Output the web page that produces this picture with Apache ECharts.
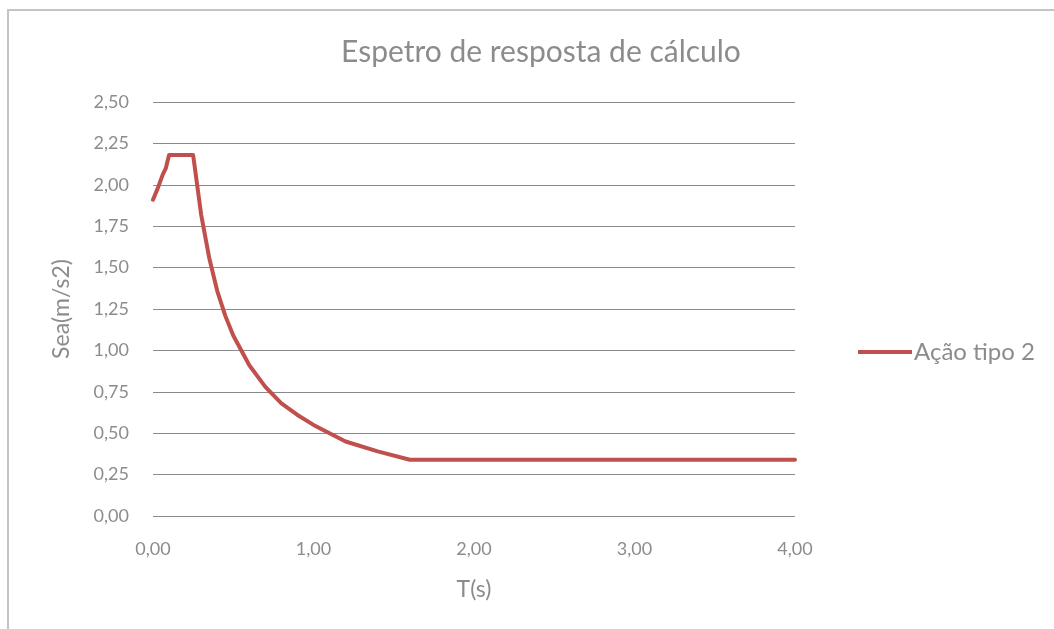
<!DOCTYPE html>
<html>
<head>
<meta charset="utf-8">
<script src="https://cdn.jsdelivr.net/npm/echarts@6/dist/echarts.min.js"></script>
<style>
    html, body { margin: 0; padding: 0; background: #fff; }
    #frame { position: absolute; left: 7px; top: 9px; width: 1100px; height: 700px; border: 2px solid #c4c4c4; box-sizing: border-box; }
    #chart { position: absolute; left: 0; top: 0; width: 1054px; height: 629px; }
</style>
</head>
<body>
<div id="frame"></div>
<div id="chart"></div>
<script>
// período T(s)
const periods = [0, 0.03, 0.06, 0.08, 0.10, 0.25, 0.30, 0.35, 0.40, 0.45, 0.50, 0.60, 0.70, 0.80, 0.90, 1.00, 1.10, 1.20, 1.40, 1.60, 4.00];
// Sea (m/s2) - Ação tipo 2
const accel = [1.91, 1.98, 2.06, 2.10, 2.18, 2.18, 1.82, 1.56, 1.36, 1.21, 1.09, 0.91, 0.78, 0.68, 0.61, 0.55, 0.50, 0.45, 0.39, 0.34, 0.34];
const yTicks = [0, 0.25, 0.5, 0.75, 1, 1.25, 1.5, 1.75, 2, 2.25, 2.5];
const xTicks = [0, 1, 2, 3, 4];

const gray = '#8c8c8c';
const font = 'Lato, "Open Sans", sans-serif';
const fmt = v => v.toFixed(2).replace('.', ',');

const chart = echarts.init(document.getElementById('chart'));

chart.setOption({
    animation: false,
    title: {
        text: 'Espetro de resposta de cálculo',
        left: 536,
        top: 32,
        textAlign: 'center',
        textStyle: { color: gray, fontFamily: font, fontSize: 30, fontWeight: 'normal' }
    },
    legend: {
        data: ['Ação tipo 2'],
        orient: 'vertical',
        left: 858,
        top: 340,
        padding: 0,
        itemWidth: 54,
        itemHeight: 4,
        itemGap: 0,
        icon: 'rect',
        textStyle: { color: gray, fontFamily: font, fontSize: 24, padding: [0, 0, 0, -3] }
    },
    grid: {
        left: 153,
        right: 259,
        top: 102,
        bottom: 113
    },
    xAxis: {
        type: 'value',
        min: xTicks[0],
        max: xTicks[xTicks.length - 1],
        interval: 1,
        name: 'T(s)',
        nameLocation: 'middle',
        nameGap: 62,
        nameTextStyle: { color: gray, fontFamily: font, fontSize: 23 },
        axisLine: { show: false },
        axisTick: { show: false },
        splitLine: { show: false },
        axisLabel: { color: gray, fontFamily: font, fontSize: 18, margin: 24, formatter: fmt }
    },
    yAxis: {
        type: 'value',
        min: yTicks[0],
        max: yTicks[yTicks.length - 1],
        interval: 0.25,
        name: 'Sea(m/s2)',
        nameLocation: 'middle',
        nameGap: 80,
        nameRotate: 90,
        nameTextStyle: { color: gray, fontFamily: font, fontSize: 23 },
        axisLine: { show: false },
        axisTick: { show: false },
        splitLine: { lineStyle: { color: '#8a8a8a', width: 1 } },
        axisLabel: { color: gray, fontFamily: font, fontSize: 18, margin: 24, formatter: fmt }
    },
    series: [
        {
            name: 'Ação tipo 2',
            type: 'line',
            data: periods.map((t, i) => [t, accel[i]]),
            showSymbol: false,
            symbol: 'none',
            lineStyle: { color: '#c0504d', width: 4, cap: 'round', join: 'round' },
            itemStyle: { color: '#c0504d' }
        }
    ]
});
</script>
</body>
</html>
